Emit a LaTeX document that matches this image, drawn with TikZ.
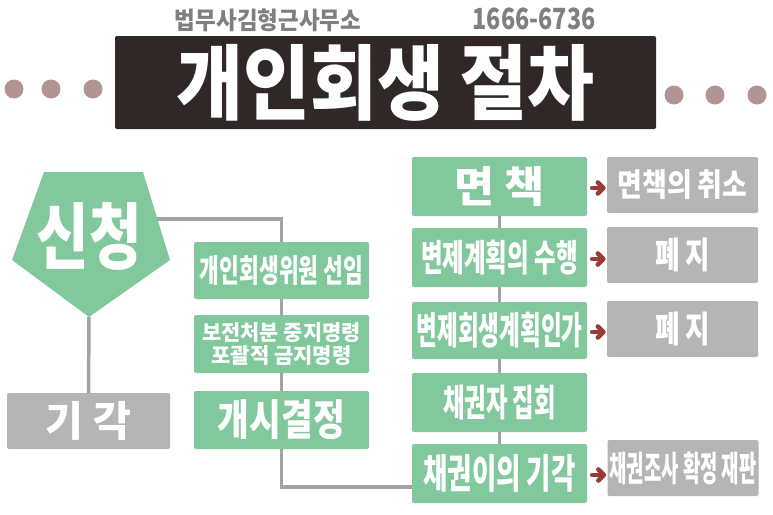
\documentclass[tikz,border=0pt]{standalone}
\usepackage{graphicx}
\usepackage{fontspec}
\setmainfont{Noto Sans CJK KR}
\usetikzlibrary{calc}
\definecolor{gr}{HTML}{82C89D}
\definecolor{gb}{HTML}{B5B5B5}
\definecolor{dk}{HTML}{302826}
\definecolor{dot}{HTML}{B39494}
\definecolor{ln}{HTML}{A3A3A3}
\definecolor{arr}{HTML}{9B3A3A}
\definecolor{tg}{HTML}{7F7F7F}
\newcommand{\tx}[3]{\resizebox*{#1pt}{#2pt}{\bfseries #3}}
\begin{document}
\begin{tikzpicture}[x=1pt,y=-1pt,
  gbox/.style={fill=gr,rounded corners=2pt,inner sep=0pt,text=white,minimum width=175pt},
  hbox/.style={fill=gb,rounded corners=2pt,inner sep=0pt,text=white,minimum width=151pt,minimum height=56pt},
  conn/.style={draw=ln,line width=3.5pt},
  arrw/.style={draw=arr,line width=4.6pt,line join=round,line cap=round},
  dotc/.style={fill=dot}]
\useasboundingbox (0,0) rectangle (773,514);
% header
\node[text=tg,inner sep=0pt] (firm) at (268,20) {\tx{186}{23}{법무사김형근사무소}};
\node[text=tg,inner sep=0pt] (tel) at (534,19) {\tx{123}{22}{1666-6736}};
\node[fill=dk,rounded corners=2pt,minimum width=541pt,minimum height=93pt,inner sep=0pt,text=white] (title) at (385.5,82.5) {\tx{418}{77}{개인회생 절차}};
\foreach \x in {14,51,93}{\fill[dotc] (\x,89) circle (9.5pt);}
\foreach \x in {674,715,757}{\fill[dotc] (\x,95) circle (9.5pt);}
% pentagon
\coordinate (pTL) at (44,172);
\coordinate (pTR) at (143,172);
\coordinate (pR) at (170,260);
\coordinate (pB) at (89,317);
\coordinate (pL) at (12,260);
\coordinate (pRout) at (157,219);
% left column boxes
\node[fill=gb,rounded corners=2pt,inner sep=0pt,text=white,minimum width=163pt,minimum height=56pt] (giak) at (88.5,421) {\tx{85}{39}{기 각}};
\node[gbox,minimum height=57pt] (m1) at (281.5,270.5) {\tx{163}{30}{개인회생위원 선임}};
\node[gbox,minimum height=58pt,align=center] (m2) at (281.5,344) {\tx{158}{20}{보전처분 중지명령}\\[1.5pt]\tx{140}{20}{포괄적 금지명령}};
\node[gbox,minimum height=58pt] (m3) at (281.5,420) {\tx{127}{40}{개시결정}};
% right column
\node[gbox,minimum height=59pt] (c1) at (499.5,186.5) {\tx{90}{40}{면 책}};
\node[gbox,minimum height=59pt] (c2) at (499.5,257.5) {\tx{157}{35}{변제계획의 수행}};
\node[gbox,minimum height=57pt] (c3) at (499.5,330.5) {\tx{166}{36}{변제회생계획인가}};
\node[gbox,minimum height=59pt] (c4) at (499.5,402.5) {\tx{113}{35}{채권자 집회}};
\node[gbox,minimum height=59pt] (c5) at (499.5,473.5) {\tx{152}{38}{채권이의 기각}};
\node[hbox] (g1) at (682.5,185) {\tx{130}{30}{면책의 취소}};
\node[hbox] (g2) at (682.5,255) {\tx{55}{34}{폐 지}};
\node[hbox] (g3) at (682.5,329) {\tx{55}{34}{폐 지}};
\node[hbox] (g4) at (683,468) {\tx{147}{33}{채권조사 확정 재판}};
% connectors
\coordinate (turn1) at (m1.north |- pRout);
\coordinate (c5in) at ($(c5.south west)+(0,-16)$);
\draw[conn] (pRout) -- (turn1) -- (m1.north);
\draw[conn] (m1.south) -- (m2.north);
\draw[conn] (m2.south) -- (m3.north);
\draw[conn] (m3.south) |- (c5in);
\draw[conn] (pB) -- (giak.north);
\draw[conn] (c1.south) -- (c2.north);
\draw[conn] (c2.south) -- (c3.north);
\draw[conn] (c3.south) -- (c4.north);
\draw[conn] (c4.south) -- (c5.north);
\fill[gr] (pTL) -- (pTR) -- (pR) -- (pB) -- (pL) -- cycle;
\node[text=white,inner sep=0pt] (sin) at (89.5,236) {\tx{105}{68}{신청}};
% arrows
\foreach \a/\b in {c1/g1,c2/g2,c3/g3,c5/g4}{
  \coordinate (s) at ($(\a.east)+(0,1.5)$);
  \coordinate (e) at ($(\a.east -| \b.west)+(0,1.5)$);
  \draw[arrw] ($(s)+(5,0)$) -- ($(e)+(-4,0)$);
  \draw[arrw] ($(e)+(-9,-5.5)$) -- ($(e)+(-3.5,0)$) -- ($(e)+(-9,5.5)$);
}
\end{tikzpicture}
\end{document}
